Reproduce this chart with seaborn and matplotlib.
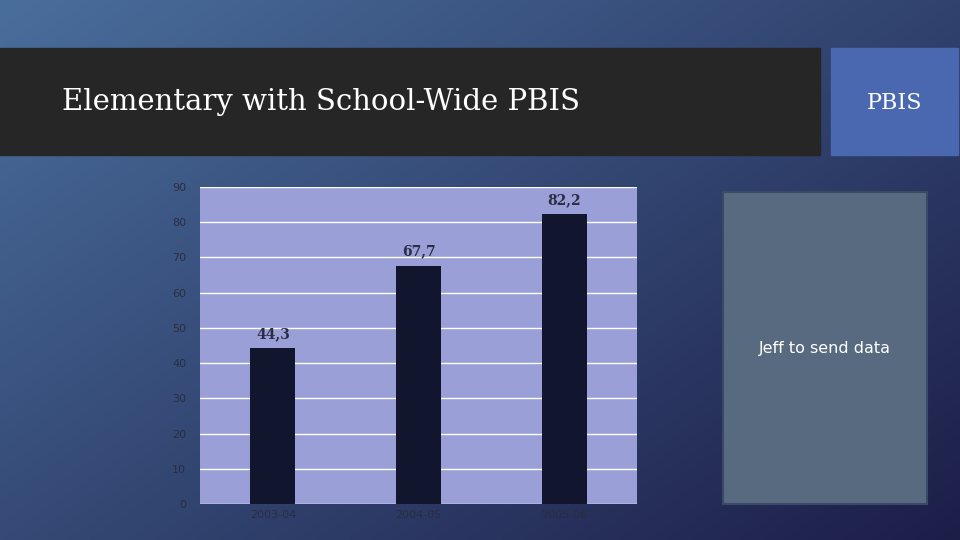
import numpy as np
import matplotlib
matplotlib.use("Agg")
import matplotlib.pyplot as plt
import seaborn as sns
import pandas as pd

categories = ["2003-04", "2004-05", "2005-06"]
values = [44.3, 67.7, 82.2]
value_labels = ["44,3", "67,7", "82,2"]
yticks = [0, 10, 20, 30, 40, 50, 60, 70, 80, 90]

sns.set_theme(style="white")
plt.rcParams['font.family'] = ['DejaVu Sans']

fig = plt.figure(figsize=(9.6, 5.4), dpi=100)

bg = fig.add_axes([0, 0, 1, 1])
yy, xx = np.mgrid[0:1:200j, 0:1:200j]
t = np.clip(0.55 * xx + 0.45 * yy, 0, 1)
c0 = np.array([0x4a, 0x6e, 0x9c]) / 255
c1 = np.array([0x1c, 0x1e, 0x48]) / 255
img = c0[None, None, :] * (1 - t[..., None]) + c1[None, None, :] * t[..., None]
bg.imshow(img, extent=[0, 1, 0, 1], aspect="auto", origin="upper")
bg.set_axis_off()

bg.add_patch(plt.Rectangle((0, 1 - 155/540), 820/960, 107/540, color="#262626"))
bg.text(62/960, 1 - 102/540, "Elementary with School-Wide PBIS", color="white",
        fontsize=21, family="DejaVu Serif", va="center")
bg.add_patch(plt.Rectangle((831/960, 1 - 155/540), 127/960, 107/540, color="#4a68b0"))
bg.text(895/960, 1 - 103/540, "PBIS", color="white", fontsize=16,
        family="DejaVu Serif", va="center", ha="center")
bg.add_patch(plt.Rectangle((723/960, 1 - 504/540), 204/960, 312/540,
                           facecolor="#586a80", edgecolor="#3a4a66", lw=1.5))
bg.text(825/960, 1 - 349/540, "Jeff to send data", color="white", fontsize=11.5,
        va="center", ha="center")
bg.set_xlim(0, 1); bg.set_ylim(0, 1)

ax = fig.add_axes([200/960, 36/540, 437/960, 317/540])
df = pd.DataFrame({"cat": categories, "val": values})
sns.barplot(data=df, x="cat", y="val", color="#12152e", width=0.31, ax=ax,
            saturation=1, edgecolor="none", linewidth=0)
ax.set_facecolor("#9a9fd8")
ax.set_xlim(-0.5, 2.5)
ax.set_ylim(0, 90)
ax.set_yticks(yticks)
ax.yaxis.grid(True, color="white", lw=1)
ax.set_axisbelow(True)
for s in ax.spines.values():
    s.set_visible(False)
ax.set_xlabel(""); ax.set_ylabel("")
ax.tick_params(axis="y", labelsize=8, colors="#2a2d40", length=0, pad=10)
ax.tick_params(axis="x", labelsize=8, colors="#2a2d40", length=0, pad=4)
for i, (v, lab) in enumerate(zip(values, value_labels)):
    ax.text(i, v + 2, lab, ha="center", va="bottom", fontsize=10,
            family="DejaVu Serif", fontweight="bold", color="#2a2d45")

fig.savefig("out.png", dpi=100)
